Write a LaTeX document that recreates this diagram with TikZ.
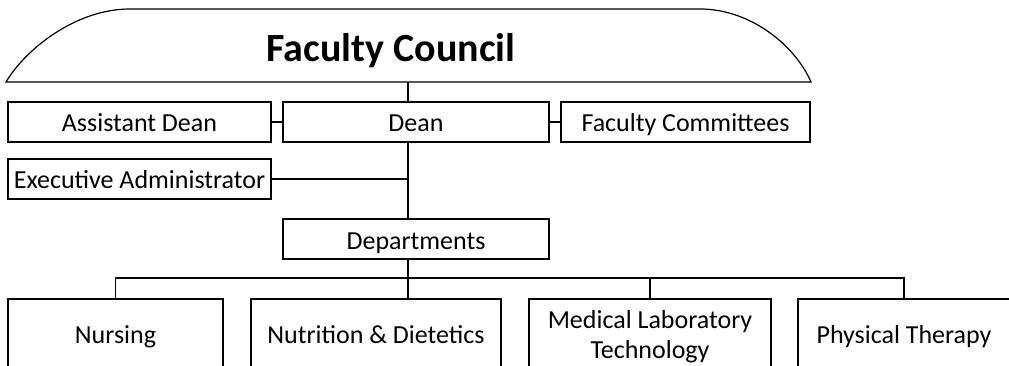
\documentclass[tikz,border=0pt]{standalone}
\usepackage{fontspec}
\setmainfont{Carlito}
\usetikzlibrary{graphs}
\tikzset{
    unit/.style ={
        shape=rectangle,
        draw=black,
        inner sep=0pt,
        minimum height=40pt,
        text height=20pt,
        text depth=0pt,
        font=\fontsize{26}{30}\selectfont
    },
    dept/.style ={
        unit,
        align=center,
        minimum height=68pt
    }
}

\begin{document}
\begin{tikzpicture}[x=1pt,y=-1pt,line width=1.2pt]
    \clip (0,0) rectangle (1009,366);
    % council banner
    \draw (6,82) .. controls (25,50) and (75,9) .. (130,9) -- (700,9)
        .. controls (750,9) and (795,45) .. (811,82) -- cycle;
    \node[font=\fontsize{40}{48}\selectfont\bfseries,anchor=base] (council) at(391,62) {Faculty Council};
    \coordinate (spine) at(408,82);
    % offices
    \node[unit,minimum width=263pt] (assistant) at(139.5,122) {Assistant Dean};
    \node[unit,minimum width=266pt] (dean) at(416,122) {Dean};
    \node[unit,minimum width=249pt] (committees) at(685.5,122) {Faculty Committees};
    \node[unit,minimum width=263pt] (executive) at(139.5,179) {Executive Administrator};
    \node[unit,minimum width=266pt] (depts) at(416,239) {Departments};
    % departments
    \node[dept,minimum width=215pt] (nursing) at(115.5,333) {Nursing};
    \node[dept,minimum width=250pt] (nutrition) at(376,333) {Nutrition \& Dietetics};
    \node[dept,minimum width=242pt,text height=50pt] (medical) at(650,333) {Medical Laboratory\\Technology};
    \node[dept,minimum width=212pt] (physical) at(904,333) {Physical Therapy};
    \coordinate (bar) at(408,278);
    \graph{
        (assistant)--(dean)--(committees);
    };
    \draw (spine) -- (dean.north -| spine);
    \draw (dean.south -| spine) -- (depts.north -| spine);
    \draw (executive) -- (executive -| spine);
    \draw (depts.south -| spine) -- (nutrition.north -| spine);
    \draw (bar) -| (nursing);
    \draw (bar) -| (medical);
    \draw (bar) -| (physical);
\end{tikzpicture}
\end{document}
